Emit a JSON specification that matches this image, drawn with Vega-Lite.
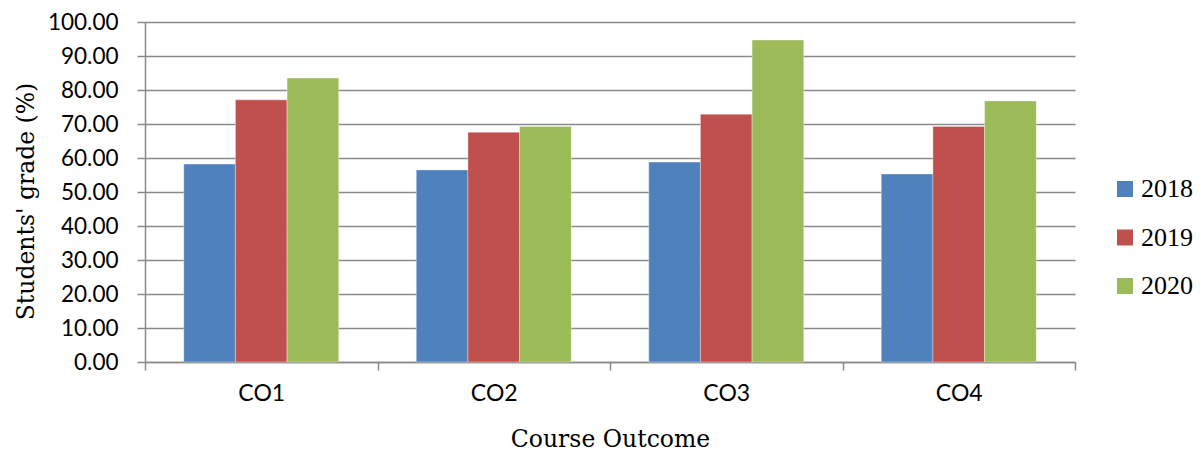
{
  "$schema": "https://vega.github.io/schema/vega-lite/v6.json",
  "width": 930,
  "height": 340,
  "autosize": {"type": "none"},
  "padding": {"left": 145, "top": 22, "right": 126, "bottom": 94},
  "background": "white",
  "data": {
    "values": [
      {"co": "CO1", "year": "2018", "grade": 58.2},
      {"co": "CO1", "year": "2019", "grade": 77.1},
      {"co": "CO1", "year": "2020", "grade": 83.5},
      {"co": "CO2", "year": "2018", "grade": 56.5},
      {"co": "CO2", "year": "2019", "grade": 67.6},
      {"co": "CO2", "year": "2020", "grade": 69.3},
      {"co": "CO3", "year": "2018", "grade": 58.8},
      {"co": "CO3", "year": "2019", "grade": 72.9},
      {"co": "CO3", "year": "2020", "grade": 94.7},
      {"co": "CO4", "year": "2018", "grade": 55.3},
      {"co": "CO4", "year": "2019", "grade": 69.3},
      {"co": "CO4", "year": "2020", "grade": 76.8}
    ]
  },
  "mark": {"type": "bar", "stroke": "#ffffff", "strokeWidth": 0.6, "strokeOpacity": 0.6},
  "encoding": {
    "x": {
      "field": "co",
      "type": "nominal",
      "scale": {"paddingInner": 0, "paddingOuter": 0},
      "axis": {
        "title": "Course Outcome",
        "titleFont": "DejaVu Serif",
        "titleFontSize": 23.5,
        "titleFontWeight": "normal",
        "titleColor": "#000000",
        "titlePadding": 22,
        "labelAngle": 0,
        "labelFont": "Lato",
        "labelFontSize": 23,
        "labelColor": "#000000",
        "labelPadding": 12,
        "tickBand": "extent",
        "tickSize": 8,
        "tickColor": "#8a8a8a",
        "tickWidth": 1.5,
        "domainColor": "#8a8a8a",
        "domainWidth": 1.5,
        "grid": false
      }
    },
    "xOffset": {
      "field": "year",
      "type": "nominal",
      "scale": {"paddingInner": 0, "paddingOuter": 0.75}
    },
    "y": {
      "field": "grade",
      "type": "quantitative",
      "scale": {"domain": [0, 100], "nice": false},
      "axis": {
        "title": "Students' grade (%)",
        "titleFont": "DejaVu Serif",
        "titleFontSize": 23.5,
        "titleFontWeight": "normal",
        "titleColor": "#000000",
        "titlePadding": 9,
        "titleY": 179,
        "format": ".2f",
        "values": [0, 10, 20, 30, 40, 50, 60, 70, 80, 90, 100],
        "labelFont": "Lato",
        "labelFontSize": 22.5,
        "labelColor": "#000000",
        "labelPadding": 19,
        "tickSize": 8,
        "tickColor": "#8a8a8a",
        "tickWidth": 1.5,
        "domainColor": "#8a8a8a",
        "domainWidth": 1.5,
        "grid": true,
        "gridColor": "#8a8a8a",
        "gridWidth": 1.5
      }
    },
    "color": {
      "field": "year",
      "type": "nominal",
      "scale": {"domain": ["2018", "2019", "2020"], "range": ["#4F81BD", "#C0504D", "#9BBB59"]},
      "legend": {
        "title": null,
        "orient": "none",
        "legendX": 967,
        "legendY": 154,
        "padding": 0,
        "symbolType": "square",
        "symbolSize": 256,
        "symbolStrokeWidth": 0,
        "symbolOpacity": 1,
        "labelFont": "Liberation Serif",
        "labelFontSize": 26,
        "labelColor": "#000000",
        "labelOffset": 3,
        "rowPadding": 22.5
      }
    }
  },
  "config": {"view": {"stroke": null}}
}
